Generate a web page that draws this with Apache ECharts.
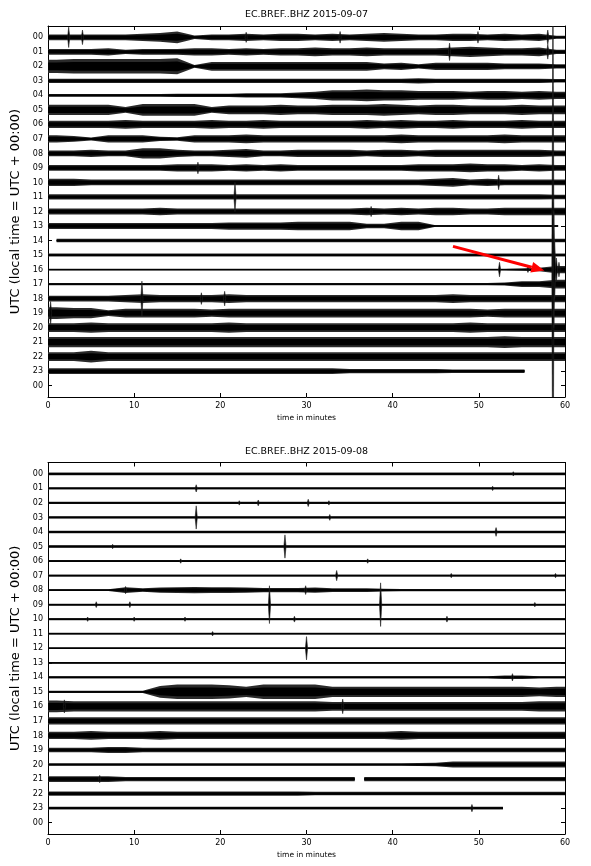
<!DOCTYPE html>
<html><head><meta charset="utf-8">
<script src="https://cdn.jsdelivr.net/npm/echarts@6/dist/echarts.min.js"></script>
<style>html,body{margin:0;padding:0;background:#fff}#c{width:591px;height:866px}</style>
</head><body><div id="c"></div>
<script>
// ---------------- DATA ----------------
const hourLabels = ['00','01','02','03','04','05','06','07','08','09','10','11','12','13','14','15','16','17','18','19','20','21','22','23','00'];
const hourTicks = [0,1,2,3,4,5,6,7,8,9,10,11,12,13,14,15,16,17,18,19,20,21,22,23,24];
const titles = ['EC.BREF..BHZ 2015-09-07', 'EC.BREF..BHZ 2015-09-08'];
const xName = 'time in minutes';
const yName = 'UTC (local time = UTC + 00:00)';
const binMinutes = 2; // each envelope value covers 2 minutes (30 per hour)

// envelope half-amplitudes per 2-minute bin (unit = 0.1 of the row spacing), 2015-09-07
const day1Amp = [
 [2,2,2,2,2,2.5,3,4,1.2,2,2,2.5,2,2.5,2.5,2,2.5,2,2.5,3,2.5,2,2,2.5,2.5,2,2.5,2,2.5,1],
 [2,2,2,2.5,1.5,2,2,2,2.5,2.5,2,2.5,2,2.5,2.5,3,2.5,2.5,3,2.5,2.5,2.5,2.5,3,3.5,3,2.5,2.5,3,1.5],
 [4.5,5,5,5,5,5,5,5.5,1,3,3,3,3,3,3,3,3,3,3,2,2.5,1.5,2.5,2.5,2.5,2.5,2,2,2,1.5],
 [1.5,1.5,1.5,1.5,1.5,1.5,1.5,1.5,1.5,1.5,1.5,1.5,1.5,1.5,1.5,1.5,1.5,1.5,1.5,1.5,1.5,1.8,1.5,1.5,1.5,1.5,1.5,1.5,1.5,1.2],
 [1,1,1,1,1,1,1,1.2,1.2,1.2,1.2,1.5,1.5,1.5,2,2.5,3.5,3.5,4,3.5,3.5,3,3,3,2.5,3,3,2.5,3,2.5],
 [3.5,3.5,3.5,3.5,2,4,4,4,4,2,3,3,3,3.5,3,3,3.5,3.5,3.5,4,3.5,3,3.5,3.5,3,3,3,3.5,3,3],
 [2.5,2.5,2.5,2.5,3,2.5,2.5,2.5,2.5,3,2.5,2.5,3,2.5,2.5,2.5,2.5,2.5,3,2.5,3,2.5,2.5,3,2.5,2.5,2.5,3,2.5,2.5],
 [2.5,2,1,2.5,2.5,2.5,1.5,1.2,2.5,2.5,2.5,3,2.5,2.5,2.5,2.5,2.5,2.5,2.5,2.5,3,2.5,2.5,2.5,2.5,2.5,3,2.5,2.5,2.5],
 [2,2,2.5,2,2,3.5,3.5,2.5,2,2,2.5,3,2,2,2.5,2.5,2.5,2.5,2,2.5,2.5,2,2.5,2.5,2.5,2.5,2.5,2.5,2.5,2],
 [2,2,2,2,2,2,2,2.5,2.5,2.5,2,2.5,2,2.5,2,2,2,2,2,2,2,2.5,2.5,2.5,3,2.5,2.5,2,2.5,2],
 [2.5,2.5,2,2,2,2,2,2,2,2,2,2,2,2,2,2,2,2,2,2,2,2,2.5,3,2,2.5,2,2,2,2],
 [1.8,1.8,1.8,1.8,1.8,1.8,1.8,1.8,1.8,1.8,1.8,1.8,1.8,1.8,1.8,1.8,1.8,1.8,1.8,1.8,1.8,1.8,1.8,1.8,1.8,1.8,1.8,1.8,1.8,1.5],
 [2,2,2,2,2,2,2.5,2,2,2,2,2,2,2,2,2,2,2,2.5,2,2.5,2,2.5,2.5,2,2,2.5,2.5,2.5,2.5],
 [2,2,2,2,2,2,2,2,2,2,2.5,2.5,2.5,2.5,3,3,3,3,1.5,1.5,3,3,0.5,0.5,0.5,0.5,0.5,0.5,0.5,0.5],
 [1.2,1.2,1.2,1.2,1.2,1.2,1.2,1.2,1.2,1.2,1.2,1.2,1.2,1.2,1.2,1.2,1.2,1.2,1.2,1.2,1.2,1.2,1.2,1.2,1.2,1.2,1.2,1.2,1.2,1.2],
 [1,1,1,1,1,1,1,1,1,1,1,1,1,1,1,1,1,1,1,1,1,1,1,1,1,1,1,1,1,1],
 [0.6,0.6,0.6,0.6,0.6,0.6,0.6,0.6,0.6,0.6,0.6,0.6,0.6,0.6,0.6,0.6,0.6,0.6,0.6,0.6,0.6,0.6,0.6,0.6,0.6,0.6,0.6,0.8,1.2,2.5],
 [0.8,0.8,0.8,0.8,0.8,0.8,0.8,0.8,0.8,0.8,0.8,0.8,0.8,0.8,0.8,0.8,0.8,0.8,0.8,0.8,0.8,0.8,0.8,0.8,0.8,0.8,1,2,2,3],
 [2,2,2,2,2.5,3,2.5,2.5,2.5,2.5,3,2.5,2.5,2.5,2.5,2.5,2.5,2.5,2.5,2.5,2.5,2.5,2.5,3,2.5,2.5,2.5,2.5,2.5,2.5],
 [4,3.5,3.5,2,3,3,3,3,3,2.5,3,3,3,3,3,3,3,3,3,3,3,3,3,3,3,2.5,3,3,3,3],
 [3,3,3.5,3,3,3,3,3,3,3,3.5,3,3,3,3,3,3,3,3,3,3,3,3,3,3.5,3,3,3,3,3],
 [3.5,3.5,3.5,3.5,3.5,3.5,3.5,3.5,3.5,3.5,3.5,3.5,3.5,3.5,3.5,3.5,3.5,3.5,3.5,3.5,3.5,3.5,3.5,3.5,3.5,3.5,4,3.5,3.5,3.5],
 [3,3,4,3,3,3,3,3,3,3,3,3,3,3,3,3,3,3,3,3,3,3,3,3,3,3,3,3,3,3],
 [2,2,2,2,2,2,2,2,2,2,2,2,2,2,2,2,2,1.5,1.5,1.5,1.5,1.5,1.5,1.2,1.2,1.2,1.2,1.2,1.2,1.2]
];
// [row, start minute, end minute] for traces not covering the full hour
const day1Extent = [[13, 0, 59.2], [14, 1.0, 60], [23, 0, 55.3]];
const day1Gaps = [];
// [row, minute, half-amplitude] for short transients
const day1Spikes = [
 [0,2.4,7],[0,4.0,5],[0,23,3.5],[0,33.9,4],[0,49.9,4],[0,58.0,5],
 [1,46.6,6],[1,58.0,5],
 [9,17.4,4],[10,52.3,5],[11,21.7,10],[12,37.5,3.5],
 [16,52.4,5],[16,55.7,2],[16,58.6,200],[16,58.7,40],[16,58.8,20],[16,59.0,8],[16,59.3,5],
 [18,10.9,12],[18,17.8,4],[18,20.5,5],[19,0.3,8]
];

// 2015-09-08
const day2Amp = [
 [1,1,1,1,1,1,1,1,1,1,1,1,1,1,1,1,1,1,1,1,1,1,1,1,1,1,1,1,1,1],
 [0.8,0.8,0.8,0.8,0.8,0.8,0.8,0.8,0.8,0.8,0.8,0.8,0.8,0.8,0.8,0.8,0.8,0.8,0.8,0.8,0.8,0.8,0.8,0.8,0.8,0.8,0.8,0.8,0.8,0.8],
 [0.8,0.8,0.8,0.8,0.8,0.8,0.8,0.8,0.8,0.8,0.8,0.8,0.8,0.8,0.8,0.8,0.8,0.8,0.8,0.8,0.8,0.8,0.8,0.8,0.8,0.8,0.8,0.8,0.8,0.8],
 [0.8,0.8,0.8,0.8,0.8,0.8,0.8,0.8,0.8,0.8,0.8,0.8,0.8,0.8,0.8,0.8,0.8,0.8,0.8,0.8,0.8,0.8,0.8,0.8,0.8,0.8,0.8,0.8,0.8,0.8],
 [0.8,0.8,0.8,0.8,0.8,0.8,0.8,0.8,0.8,0.8,0.8,0.8,0.8,0.8,0.8,0.8,0.8,0.8,0.8,0.8,0.8,0.8,0.8,0.8,0.8,0.8,0.8,0.8,0.8,0.8],
 [0.8,0.8,0.8,0.8,0.8,0.8,0.8,0.8,0.8,0.8,0.8,0.8,0.8,0.8,0.8,0.8,0.8,0.8,0.8,0.8,0.8,0.8,0.8,0.8,0.8,0.8,0.8,0.8,0.8,0.8],
 [0.7,0.7,0.7,0.7,0.7,0.7,0.7,0.7,0.7,0.7,0.7,0.7,0.7,0.7,0.7,0.7,0.7,0.7,0.7,0.7,0.7,0.7,0.7,0.7,0.7,0.7,0.7,0.7,0.7,0.7],
 [0.7,0.7,0.7,0.7,0.7,0.7,0.7,0.7,0.7,0.7,0.7,0.7,0.7,0.7,0.7,0.7,0.7,0.7,0.7,0.7,0.7,0.7,0.7,0.7,0.7,0.7,0.7,0.7,0.7,0.7],
 [0.6,0.6,0.6,0.6,2,1.2,1.8,2,2.2,2,2,1.8,1.5,1.5,1.5,1.8,1.3,1.3,1.3,1,0.7,0.7,0.7,0.7,0.7,0.7,0.7,0.7,0.7,0.7],
 [0.7,0.7,0.7,0.7,0.7,0.7,0.7,0.7,0.7,0.7,0.7,0.7,0.7,0.7,0.7,0.7,0.7,0.7,0.7,0.7,0.7,0.7,0.7,0.7,0.7,0.7,0.7,0.7,0.7,0.7],
 [0.7,0.7,0.7,0.7,0.7,0.7,0.7,0.7,0.7,0.7,0.7,0.7,0.7,0.7,0.7,0.7,0.7,0.7,0.7,0.7,0.7,0.7,0.7,0.7,0.7,0.7,0.7,0.7,0.7,0.7],
 [0.6,0.6,0.6,0.6,0.6,0.6,0.6,0.6,0.6,0.6,0.6,0.6,0.6,0.6,0.6,0.6,0.6,0.6,0.6,0.6,0.6,0.6,0.6,0.6,0.6,0.6,0.6,0.6,0.6,0.6],
 [0.6,0.6,0.6,0.6,0.6,0.6,0.6,0.6,0.6,0.6,0.6,0.6,0.6,0.6,0.6,0.6,0.6,0.6,0.6,0.6,0.6,0.6,0.6,0.6,0.6,0.6,0.6,0.6,0.6,0.6],
 [0.6,0.6,0.6,0.6,0.6,0.6,0.6,0.6,0.6,0.6,0.6,0.6,0.6,0.6,0.6,0.6,0.6,0.6,0.6,0.6,0.6,0.6,0.6,0.6,0.6,0.6,0.6,0.6,0.6,0.6],
 [0.8,0.8,0.8,0.8,0.8,0.8,0.8,0.8,0.8,0.8,0.8,0.8,0.8,0.8,0.8,0.8,0.8,0.8,0.8,0.8,0.8,0.8,0.8,0.8,0.8,0.8,1.2,1.2,0.8,0.8],
 [0.8,0.8,0.8,0.8,0.8,0.8,4,5,5,5,4.5,3.5,5,5,5,5,3.5,3.5,3.5,3.5,3.5,3.5,3.5,3.5,3.5,3.5,3.5,3.5,3,3.5],
 [4,3.5,3.5,3.5,3.5,3.5,3.5,3.5,3.5,3.5,3.5,3.5,3.5,3.5,3.5,3.5,3,3,3,3,3,3,3,3,3,3,3,3,3.5,3.5],
 [2.5,2.5,2.5,2.5,2.5,2.5,2.5,2.5,2.5,2.5,2.5,2.5,2.5,2.5,2.5,2.5,2.5,2.5,2.5,2.5,2.5,2.5,2.5,2.5,2.5,2.5,2.5,2.5,2.5,2.5],
 [2.5,2.5,3,2.5,2.5,2.5,3,2.5,2.5,2.5,2.5,2.5,2.5,2.5,2.5,2.5,2.5,2.5,2.5,2.5,3,2.5,2.5,2.5,2.5,2.5,2.5,2.5,2.5,2.5],
 [1.5,1.5,1.5,2,2,1.5,1.5,1.5,1.5,1.5,1.5,1.5,1.5,1.5,1.5,1.5,1.5,1.5,1.5,1.5,1.5,1.5,1.5,1.5,1.5,1.5,1.5,1.5,1.5,1.5],
 [0.8,0.8,0.8,0.8,0.8,0.8,0.8,0.8,0.8,0.8,0.8,0.8,0.8,0.8,0.8,0.8,0.8,0.8,0.8,0.8,0.8,1,1.2,2,2,2,2,2,2,2],
 [2,2,2,2,1.5,1.5,1.5,1.5,1.5,1.5,1.5,1.5,1.5,1.5,1.5,1.5,1.5,1.5,1.5,1.5,1.5,1.5,1.5,1.5,1.5,1.5,1.5,1.5,1.5,1.5],
 [1.5,1.5,1.5,1.5,1.5,1.5,1.5,1.5,1.5,1.5,1.5,1.5,1.5,1.5,1.5,1.2,1.2,1.2,1.2,1.2,1.2,1.2,1.2,1.2,1.2,1.2,1.2,1.2,1.2,1.2],
 [1,1,1,1,1,1,1,1,1,1,1,1,1,1,1,1,1,1,1,1,1,1,1,1,1,1,1,1,1,1]
];
const day2Extent = [[23, 0, 52.8]];
const day2Gaps = [[21, 35.6, 36.7]];
const day2Spikes = [
 [0,54,1.5],[1,17.2,2.5],[1,51.6,1.5],
 [2,22.2,1.5],[2,24.4,2],[2,30.2,2.5],[2,32.6,1.5],
 [3,17.2,8],[3,32.7,2],[4,52,3],[5,7.5,1.5],[5,27.5,8],
 [6,15.4,1.5],[6,37.1,1.5],[7,33.5,3.5],[7,46.8,1.5],[7,58.9,1.5],
 [8,9.0,2.5],[8,29.9,3],
 [9,5.6,2],[9,9.5,2],[9,25.7,13],[9,38.6,15],[9,56.5,1.5],
 [10,4.6,1.5],[10,10,1.5],[10,15.9,1.5],[10,28.6,2],[10,46.3,2],
 [11,19.1,1.5],[12,30.0,8],[14,53.9,2.5],
 [16,1.9,4.5],[16,34.2,5],[21,6,2.5],[23,49.2,2.5]
];
// annotation arrow on the first day: [fromMinute, fromRow, toMinute, toRow]
const arrowDay1 = [47.0, 14.4, 57.6, 16.07];

// ---------------- RENDER ----------------
const FONT = 'DejaVu Sans';
const gain = 0.1; // rows per amplitude unit
const yMin = -0.78, yMax = 24.78;

function ampAt(bins, t) {
  const i = Math.min(bins.length - 1, Math.max(0, Math.floor(t / binMinutes)));
  return bins[i];
}
function traceRenderer(amp, extents, gaps) {
  return function (params, api) {
    const r = params.dataIndex;
    const bins = amp[r];
    let s = 0, e = 60;
    extents.forEach(x => { if (x[0] === r) { s = x[1]; e = x[2]; } });
    let segs = [[s, e]];
    gaps.forEach(g => {
      if (g[0] !== r) return;
      const out = [];
      segs.forEach(sg => {
        if (g[1] > sg[0] && g[2] < sg[1]) { out.push([sg[0], g[1]]); out.push([g[2], sg[1]]); }
        else out.push(sg);
      });
      segs = out;
    });
    const children = [];
    segs.forEach(([a, b]) => {
      const ts = [a];
      for (let i = 0; i < bins.length; i++) {
        const c = i * binMinutes + binMinutes / 2;
        if (c > a && c < b) ts.push(c);
      }
      ts.push(b);
      [[1, '#2a2a2a'], [0.6, '#000']].forEach(([k, col]) => {
        const up = ts.map(t => api.coord([t, r - ampAt(bins, t) * gain * k]));
        const dn = ts.map(t => api.coord([t, r + ampAt(bins, t) * gain * k])).reverse();
        children.push({ type: 'polygon', shape: { points: up.concat(dn) }, style: { fill: col } });
      });
      const p0 = api.coord([a, r]), p1 = api.coord([b, r]);
      children.push({ type: 'line', shape: { x1: p0[0], y1: p0[1], x2: p1[0], y2: p1[1] }, style: { stroke: '#000', lineWidth: 1.3 } });
    });
    return { type: 'group', children };
  };
}
function spikeRenderer(params, api) {
  const r = api.value(0), m = api.value(1), a = api.value(2) * gain;
  const top = api.coord([m, r - a]), mid = api.coord([m, r]), bot = api.coord([m, r + a]);
  const w = 1.1;
  return {
    type: 'polygon',
    shape: { points: [top, [mid[0] + w, mid[1]], bot, [mid[0] - w, mid[1]]] },
    style: { fill: '#000', stroke: '#222', lineWidth: 0.6 }
  };
}
function arrowRenderer(params, api) {
  const p1 = api.coord([api.value(0), api.value(1)]);
  const p2 = api.coord([api.value(2), api.value(3)]);
  const dx = p2[0] - p1[0], dy = p2[1] - p1[1], L = Math.hypot(dx, dy);
  const ux = dx / L, uy = dy / L, hl = 13, hw = 5.5;
  const base = [p2[0] - ux * hl, p2[1] - uy * hl];
  return {
    type: 'group', children: [
      { type: 'line', shape: { x1: p1[0], y1: p1[1], x2: base[0], y2: base[1] }, style: { stroke: '#f00', lineWidth: 3 } },
      { type: 'polygon', shape: { points: [p2, [base[0] - uy * hw, base[1] + ux * hw], [base[0] + uy * hw, base[1] - ux * hw]] }, style: { fill: '#f00' } }
    ]
  };
}

const grids = [
  { left: 48, top: 26, width: 517, height: 371 },
  { left: 48, top: 462.5, width: 517, height: 371.5 }
];
const axisLine = { show: true, onZero: false, lineStyle: { color: '#000', width: 1 } };
const tick = { show: true, inside: true, length: 4, lineStyle: { color: '#000', width: 1 } };
const xAxes = [], yAxes = [];
grids.forEach((g, i) => {
  xAxes.push({
    gridIndex: i, type: 'value', min: 0, max: 60, interval: 10, position: 'bottom',
    axisLine, axisTick: tick, splitLine: { show: false },
    axisLabel: { fontSize: 8, color: '#000', margin: 5, fontFamily: FONT },
    name: xName, nameLocation: 'middle', nameGap: 17,
    nameTextStyle: { fontSize: 7.5, color: '#000', fontFamily: FONT }
  });
  xAxes.push({
    gridIndex: i, type: 'value', min: 0, max: 60, interval: 10, position: 'top',
    axisLine, axisTick: tick, splitLine: { show: false }, axisLabel: { show: false }
  });
  yAxes.push({
    gridIndex: i, type: 'value', inverse: true, min: yMin, max: yMax, position: 'left',
    axisLine, axisTick: Object.assign({ customValues: hourTicks }, tick), splitLine: { show: false },
    axisLabel: { customValues: hourTicks, formatter: v => hourLabels[Math.round(v)], fontSize: 8, color: '#000', margin: 5, fontFamily: FONT },
    name: yName, nameLocation: 'middle', nameGap: 15, nameRotate: 90,
    nameTextStyle: { fontSize: 13, color: '#000', fontFamily: FONT }
  });
  yAxes.push({
    gridIndex: i, type: 'value', inverse: true, min: yMin, max: yMax, position: 'right',
    axisLine, axisTick: Object.assign({ customValues: hourTicks }, tick), splitLine: { show: false },
    axisLabel: { show: false }
  });
});

const days = [
  { amp: day1Amp, ext: day1Extent, gaps: day1Gaps, spikes: day1Spikes },
  { amp: day2Amp, ext: day2Extent, gaps: day2Gaps, spikes: day2Spikes }
];
const series = [];
days.forEach((d, i) => {
  series.push({
    type: 'custom', xAxisIndex: i * 2, yAxisIndex: i * 2, clip: true, silent: true,
    renderItem: traceRenderer(d.amp, d.ext, d.gaps),
    data: d.amp.map((_, r) => [0, r]), encode: { x: 0, y: 1 }, animation: false
  });
  series.push({
    type: 'custom', xAxisIndex: i * 2, yAxisIndex: i * 2, clip: true, silent: true, z: 3,
    renderItem: spikeRenderer, data: d.spikes, encode: { x: 1, y: 0 }, animation: false
  });
});
series.push({
  type: 'custom', xAxisIndex: 0, yAxisIndex: 0, clip: false, silent: true, z: 10,
  renderItem: arrowRenderer, data: [arrowDay1], encode: { x: [0, 2], y: [1, 3] }, animation: false
});

const chart = echarts.init(document.getElementById('c'), null, { renderer: 'canvas' });
chart.setOption({
  animation: false,
  backgroundColor: '#fff',
  grid: grids.map(g => Object.assign({ containLabel: false, outerBoundsMode: 'none' }, g)),
  xAxis: xAxes,
  yAxis: yAxes,
  graphic: [
    { type: 'text', x: 306.5, y: 15, style: { text: titles[0], fontSize: 9.5, fontFamily: FONT, fill: '#000', align: 'center', verticalAlign: 'middle', textAlign: 'center', textVerticalAlign: 'middle' } },
    { type: 'text', x: 306.5, y: 451.5, style: { text: titles[1], fontSize: 9.5, fontFamily: FONT, fill: '#000', align: 'center', verticalAlign: 'middle', textAlign: 'center', textVerticalAlign: 'middle' } }
  ],
  series
});
</script>
</body></html>
